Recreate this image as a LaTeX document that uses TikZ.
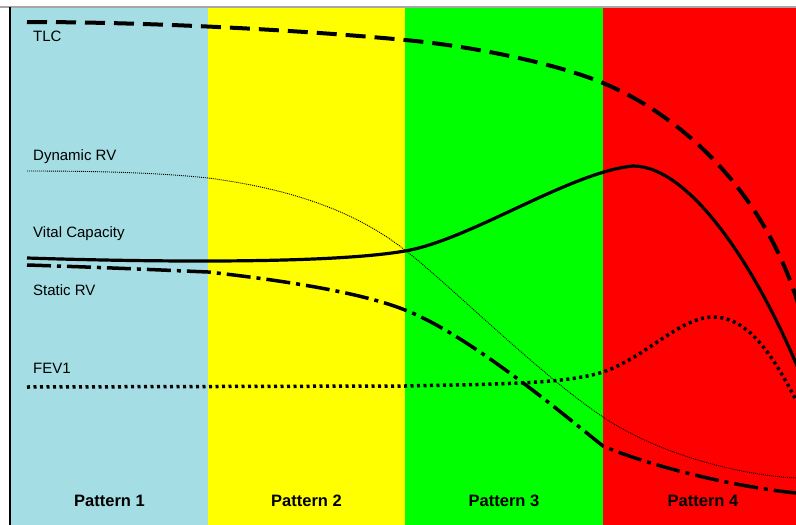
\documentclass[tikz,border=0pt]{standalone}
\usepackage{fontspec}
\setmainfont{Liberation Sans}
\definecolor{bandblue}{RGB}{164,221,227}
\definecolor{bandyellow}{RGB}{255,255,0}
\definecolor{bandgreen}{RGB}{0,255,0}
\definecolor{bandred}{RGB}{255,0,0}
\begin{document}
\begin{tikzpicture}[x=1pt,y=-1pt,
  lbl/.style={anchor=base west,inner sep=0pt,font=\fontsize{15}{15}\selectfont},
  pat/.style={anchor=base,inner sep=0pt,font=\fontsize{16.5}{16.5}\selectfont\bfseries},
  tlcline/.style={line width=4pt,dash pattern=on 20pt off 9pt},
  vcline/.style={line width=3.2pt},
  dynline/.style={line width=0.9pt,dash pattern=on 1pt off 1pt},
  statline/.style={line width=3.5pt,dash pattern=on 24pt off 6pt on 4pt off 6pt},
  fevline/.style={line width=3.5pt,dash pattern=on 3pt off 3.5pt}]
\useasboundingbox (0,0) rectangle (796,525);
\fill[white] (0,0) rectangle (796,525);
% bands
\fill[bandblue] (11,8) rectangle (208,525);
\fill[bandyellow] (208,8) rectangle (405,525);
\fill[bandgreen] (405,8) rectangle (603,525);
\fill[bandred] (603,8) rectangle (796,525);
\draw[gray!70,line width=1.2pt] (0,7) -- (796,7);
\draw[black,line width=2pt] (10,7) -- (10,525);
% curves
\begin{scope}
\clip (11,8) rectangle (796,525);
% TLC
\draw[tlcline] (27,22) .. controls (150,22) and (300,30) .. (405,40)
  .. controls (480,47) and (560,65) .. (603,83)
  .. controls (680,115) and (765,190) .. (800,310);
% Vital capacity
\draw[vcline] (27,258) .. controls (150,262) and (330,264) .. (405,251)
  .. controls (470,240) and (570,172) .. (633,166)
  .. controls (690,166) and (757,268) .. (800,373);
% Dynamic RV
\draw[dynline] (27,171) .. controls (120,171) and (170,174) .. (208,178)
  .. controls (300,190) and (360,215) .. (405,250)
  .. controls (450,285) and (540,375) .. (603,417)
  .. controls (660,455) and (740,475) .. (796,478);
% Static RV
\draw[statline] (27,265) .. controls (120,268) and (160,270) .. (208,272)
  .. controls (280,280) and (360,292) .. (405,310)
  .. controls (470,335) and (570,420) .. (603,446)
  .. controls (640,462) and (720,485) .. (796,493);
% FEV1
\draw[fevline] (27,387) -- (405,386)
  .. controls (500,384) and (565,384) .. (603,372)
  .. controls (645,358) and (680,317) .. (713,317)
  .. controls (750,317) and (775,360) .. (796,400);
\end{scope}
% labels
\node[lbl] (tlc) at (33,41) {TLC};
\node[lbl] (dyn) at (33,160) {Dynamic RV};
\node[lbl] (vc) at (33,237) {Vital Capacity};
\node[lbl] (srv) at (33,295) {Static RV};
\node[lbl] (fev) at (33,373) {FEV1};
\node[pat] (p1) at (109.5,506) {Pattern 1};
\node[pat] (p2) at (306.5,506) {Pattern 2};
\node[pat] (p3) at (504,506) {Pattern 3};
\node[pat] (p4) at (703,506) {Pattern 4};
\end{tikzpicture}
\end{document}
